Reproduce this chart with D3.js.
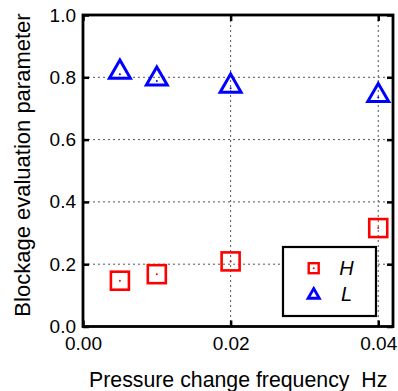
<!DOCTYPE html>
<html><head><meta charset="utf-8">
<script src="https://cdn.jsdelivr.net/npm/d3@7"></script>
<style>body{margin:0;background:#fff}svg{display:block}text{font-family:"Liberation Sans",Arial,sans-serif}</style>
</head><body>
<svg id="c" width="398" height="391"></svg>
<script>
const freq = [0.005, 0.01, 0.02, 0.04];
const seriesH = [0.147, 0.168, 0.209, 0.316];
const seriesL = [0.81, 0.788, 0.765, 0.735];
const xTicks = [0, 0.02, 0.04];
const yTicks = [0, 0.2, 0.4, 0.6, 0.8, 1.0];
const legendLabels = ["H", "L"];

const svg = d3.select("#c");
const L = 83, R = 393, T = 15, B = 326.5;
const x = d3.scaleLinear().domain([0, 0.042]).range([L, R]);
const y = d3.scaleLinear().domain([0, 1]).range([B, T]);

// grid
const g = svg.append("g");
g.selectAll(".gx").data([0.02, 0.04]).enter().append("line")
  .attr("x1", d => x(d)).attr("x2", d => x(d)).attr("y1", T).attr("y2", B)
  .attr("stroke", "#555").attr("stroke-width", 1).attr("stroke-dasharray", "2,3");
g.selectAll(".gy").data([0.2, 0.4, 0.6, 0.8]).enter().append("line")
  .attr("x1", L).attr("x2", R).attr("y1", d => y(d)).attr("y2", d => y(d))
  .attr("stroke", "#555").attr("stroke-width", 1).attr("stroke-dasharray", "2,3");

// axes
const fs = "19px";
const axB = svg.append("g").attr("transform", `translate(0,${B})`)
  .call(d3.axisBottom(x).tickValues(xTicks).tickFormat(d3.format(".2f")).tickSizeInner(-6).tickSizeOuter(0).tickPadding(10.5));
const axL = svg.append("g").attr("transform", `translate(${L},0)`)
  .call(d3.axisLeft(y).tickValues(yTicks).tickFormat(d3.format(".1f")).tickSizeInner(-6).tickSizeOuter(0).tickPadding(7));
const axT = svg.append("g").attr("transform", `translate(0,${T})`)
  .call(d3.axisTop(x).tickValues(xTicks).tickFormat("").tickSizeInner(-6).tickSizeOuter(0));
const axR = svg.append("g").attr("transform", `translate(${R},0)`)
  .call(d3.axisRight(y).tickValues(yTicks).tickFormat("").tickSizeInner(-6).tickSizeOuter(0));
[axB, axL, axT, axR].forEach(a => {
  a.select(".domain").remove();
  a.selectAll(".tick line").attr("stroke", "#000").attr("stroke-width", 2.5);
  a.selectAll("text").attr("font-size", fs).attr("fill", "#000")
    .style("font-family", '"Liberation Sans",Arial,sans-serif');
});
svg.append("rect").attr("x", L).attr("y", T).attr("width", R - L).attr("height", B - T)
  .attr("fill", "none").attr("stroke", "#000").attr("stroke-width", 2.8);

// markers
const sq = 18, tri = d3.symbol().type(d3.symbolTriangle).size(190);
svg.selectAll(".h").data(freq).enter().append("rect")
  .attr("x", (d) => x(d) - sq / 2).attr("y", (d, i) => y(seriesH[i]) - sq / 2)
  .attr("width", sq).attr("height", sq).attr("fill", "none").attr("stroke", "#f00").attr("stroke-width", 2.6);
svg.selectAll(".hd").data(freq).enter().append("circle")
  .attr("cx", d => x(d)).attr("cy", (d, i) => y(seriesH[i])).attr("r", 1).attr("fill", "#f00");
svg.selectAll(".l").data(freq).enter().append("path")
  .attr("d", tri).attr("transform", (d, i) => `translate(${x(d)},${y(seriesL[i]) - 2})`)
  .attr("fill", "none").attr("stroke", "#00f").attr("stroke-width", 3);
svg.selectAll(".ld").data(freq).enter().append("circle")
  .attr("cx", d => x(d)).attr("cy", (d, i) => y(seriesL[i])).attr("r", 1).attr("fill", "#00f");

// legend
const lg = svg.append("g");
lg.append("rect").attr("x", 283).attr("y", 247).attr("width", 93).attr("height", 69)
  .attr("fill", "#fff").attr("stroke", "#000").attr("stroke-width", 2.2);
lg.append("rect").attr("x", 308.7).attr("y", 263.2).attr("width", 10).attr("height", 10)
  .attr("fill", "none").attr("stroke", "#f00").attr("stroke-width", 2.4);
lg.append("circle").attr("cx", 313.7).attr("cy", 268.2).attr("r", 1).attr("fill", "#f00");
lg.append("path").attr("d", d3.symbol().type(d3.symbolTriangle).size(55))
  .attr("transform", "translate(313.7,295)").attr("fill", "none").attr("stroke", "#00f").attr("stroke-width", 2.8);
lg.selectAll(".lt").data(legendLabels).enter().append("text")
  .attr("x", 346.5).attr("y", (d, i) => 274.5 + i * 26.5).attr("text-anchor", "middle")
  .attr("font-size", "20px").attr("font-style", "italic").text(d => d);

// axis titles
svg.append("text").attr("x", 89).attr("y", 386.7).attr("text-anchor", "start")
  .attr("font-size", "21.3px").attr("xml:space", "preserve").style("white-space", "pre")
  .text("Pressure change frequency  Hz");
svg.append("text").attr("transform", "translate(30,165) rotate(-90)").attr("text-anchor", "middle")
  .attr("font-size", "22px").text("Blockage evaluation parameter");
</script>
</body></html>
